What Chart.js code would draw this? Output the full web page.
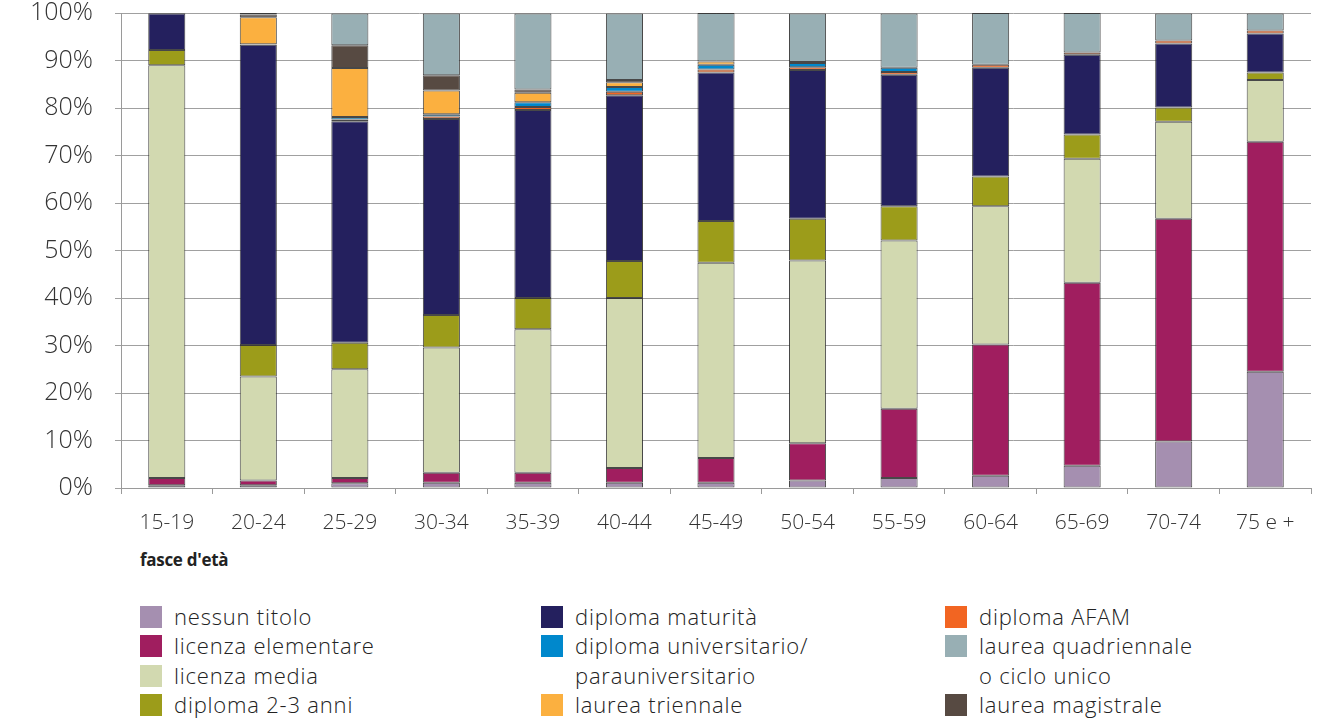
<!DOCTYPE html>
<html lang="it">
<head>
<meta charset="utf-8">
<title>Popolazione per titolo di studio e fascia d'età</title>
<script src="https://cdn.jsdelivr.net/npm/chart.js@4/dist/chart.umd.min.js"></script>
<style>
    body { margin: 0; background: #fff; width: 1326px; height: 720px; overflow: hidden; font-family: "Open Sans", sans-serif; }
    #chart-box { position: absolute; left: 0; top: -24px; width: 1326px; height: 569px; }
    #axis-title { position: absolute; left: 140px; top: 548px; font-size: 17px; font-weight: 700; color: #222; letter-spacing: -0.3px; }
    #legend { position: absolute; top: 602px; left: 0; }
    .legend-col { position: absolute; top: 0; }
    .legend-item { display: flex; align-items: flex-start; }
    .swatch { width: 22px; height: 22px; margin-top: 4px; margin-right: 12px; flex: none; }
    .legend-text { font-size: 22px; font-weight: 300; letter-spacing: 0.8px; line-height: 29.4px; color: #222; white-space: nowrap; }
</style>
</head>
<body>
<div id="chart-box"><canvas id="eduChart"></canvas></div>
<div id="axis-title">fasce d'età</div>
<div id="legend"></div>

<script>
const categories = ['15-19', '20-24', '25-29', '30-34', '35-39', '40-44', '45-49',
                    '50-54', '55-59', '60-64', '65-69', '70-74', '75 e +'];

const nessunTitolo      = [0.6, 0.6, 1.0, 1.1, 1.1, 1.1, 1.1, 1.6, 2.1, 2.6, 4.7, 9.8, 24.5];
const licenzaElementare = [1.5, 1.0, 1.1, 2.1, 2.1, 3.1, 5.2, 7.8, 14.6, 27.6, 38.5, 46.9, 48.4];
const licenzaMedia      = [86.9, 21.9, 22.9, 26.4, 30.2, 35.8, 41.1, 38.5, 35.4, 29.1, 26.1, 20.4, 13.0];
const diploma23         = [3.2, 6.6, 5.6, 6.8, 6.6, 7.8, 8.8, 8.8, 7.2, 6.3, 5.1, 3.0, 1.6];
const diplomaMaturita   = [7.7, 63.2, 46.6, 41.3, 39.6, 34.9, 31.3, 31.3, 27.7, 22.9, 16.8, 13.5, 8.2];
const diplomaAfam       = [0.2, 0.1, 0.4, 0.5, 0.6, 0.7, 0.6, 0.6, 0.6, 0.6, 0.5, 0.6, 0.6];
const diplomaUniv       = [null, null, 0.5, 0.5, 1.0, 1.0, 1.0, 0.9, 0.9, null, null, null, null];
const laureaTriennale   = [null, 5.7, 10.3, 5.0, 2.0, 1.0, 0.7, 0.2, null, null, null, null, null];
const laureaMagistrale  = [null, 0.6, 4.8, 3.2, 0.7, 0.5, null, null, null, null, null, null, null];
const laureaQuadr       = [null, 0.3, 6.7, 13.0, 16.0, 14.0, 10.2, 10.2, 11.4, 10.9, 8.3, 5.7, 3.6];

const yTicks = [0, 10, 20, 30, 40, 50, 60, 70, 80, 90, 100];

// stacking order, bottom to top
const series = [
    { key: 'nessun',   label: ['nessun titolo'],                                data: nessunTitolo,      color: '#a58fb0' },
    { key: 'elem',     label: ['licenza elementare'],                           data: licenzaElementare, color: '#a01e5f' },
    { key: 'media',    label: ['licenza media'],                                data: licenzaMedia,      color: '#d2d9b0' },
    { key: 'dip23',    label: ['diploma 2-3 anni'],                             data: diploma23,         color: '#9c9c1a' },
    { key: 'matur',    label: ['diploma maturità'],                             data: diplomaMaturita,   color: '#24205e' },
    { key: 'afam',     label: ['diploma AFAM'],                                 data: diplomaAfam,       color: '#f26522' },
    { key: 'univ',     label: ['diploma universitario/', 'parauniversitario'],  data: diplomaUniv,       color: '#0088cc' },
    { key: 'trienn',   label: ['laurea triennale'],                             data: laureaTriennale,   color: '#fbb040' },
    { key: 'magist',   label: ['laurea magistrale'],                            data: laureaMagistrale,  color: '#574a42' },
    { key: 'quadr',    label: ['laurea quadriennale', 'o ciclo unico'],         data: laureaQuadr,       color: '#98afb4' }
];

const legendColumns = [
    { left: 140, keys: ['nessun', 'elem', 'media', 'dip23'] },
    { left: 541, keys: ['matur', 'univ', 'trienn'] },
    { left: 945, keys: ['afam', 'quadr', 'magist'] }
];

Chart.defaults.font.family = '"Open Sans", sans-serif';
Chart.defaults.font.weight = 300;
Chart.defaults.color = '#333';

const ctx = document.getElementById('eduChart').getContext('2d');
new Chart(ctx, {
    type: 'bar',
    data: {
        labels: categories,
        datasets: series.map(s => ({
            label: s.label.join(' '),
            data: s.data,
            backgroundColor: s.color,
            borderColor: 'rgba(40, 40, 40, 0.85)',
            borderWidth: 1,
            borderSkipped: false,
            barPercentage: 0.405,
            categoryPercentage: 1
        }))
    },
    options: {
        responsive: true,
        maintainAspectRatio: false,
        animation: false,
        layout: { padding: { top: 0, right: 15, left: 0, bottom: 0 } },
        scales: {
            x: {
                stacked: true,
                grid: { drawOnChartArea: false, drawTicks: true, tickLength: 6, color: '#9a9a9a', offset: true },
                border: { color: '#9a9a9a' },
                ticks: { font: { size: 21, weight: 300 }, color: '#333', padding: 16, maxRotation: 0 },
                afterFit: axis => { axis.height = 57; }
            },
            y: {
                stacked: true,
                min: 0,
                max: 100,
                afterBuildTicks: axis => { axis.ticks = yTicks.map(v => ({ value: v })); },
                grid: { color: '#a0a0a0', tickLength: 6 },
                border: { color: '#9a9a9a' },
                ticks: { font: { size: 25, weight: 300 }, color: '#333', padding: 22, callback: v => v + '%' },
                afterFit: axis => { axis.width = 121; }
            }
        },
        plugins: {
            legend: { display: false },
            tooltip: { enabled: false }
        }
    }
});

// HTML legend in three columns
const legendEl = document.getElementById('legend');
legendColumns.forEach(col => {
    const colEl = document.createElement('div');
    colEl.className = 'legend-col';
    colEl.style.left = col.left + 'px';
    col.keys.forEach(k => {
        const s = series.find(x => x.key === k);
        const item = document.createElement('div');
        item.className = 'legend-item';
        const sw = document.createElement('span');
        sw.className = 'swatch';
        sw.style.background = s.color;
        const txt = document.createElement('span');
        txt.className = 'legend-text';
        txt.innerHTML = s.label.join('<br>');
        item.appendChild(sw);
        item.appendChild(txt);
        colEl.appendChild(item);
    });
    legendEl.appendChild(colEl);
});
</script>
</body>
</html>
